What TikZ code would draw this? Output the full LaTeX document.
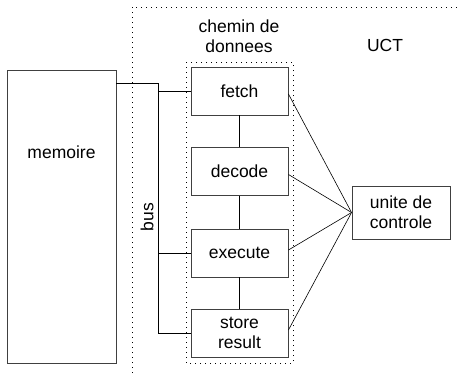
\documentclass[tikz,border=0pt]{standalone}
\usepackage{fontspec}
\setmainfont{Liberation Sans}
\usetikzlibrary{positioning}

\begin{document}
\begin{tikzpicture}[x=1pt, y=-1pt,
        % --- Styles for the nodes ---
        box/.style={
            draw=black!75, line width=0.9pt, rectangle, align=center,
            font=\fontsize{17.5}{20}\selectfont
        },
        stage/.style={box, minimum width=97pt, minimum height=48pt},
        zone/.style={line width=0.9pt, dash pattern=on 0.9pt off 4.1pt},
        link/.style={line width=0.6pt},
        label_style/.style={font=\fontsize{17.5}{20}\selectfont, align=center}
    ]
    \useasboundingbox (0,0) rectangle (457,373);

    % --- UCT and data path zones ---
    \draw[zone] (132,373) -- (132,7) -- (457,7);
    \draw[zone] (186,62) rectangle (293,363);
    \node[label_style] (uct) at (385,45) {UCT};
    \node[label_style] (path) at (239,36) {chemin de\\donnees};

    % --- Memory ---
    \node[box, minimum width=109pt, minimum height=293pt] (mem) at (61.5,216.5) {};
    \node[label_style] (memtext) at (61.5,152) {memoire};

    % --- The four stages ---
    \foreach \name/\txt/\y in {fetch/fetch/91, decode/decode/171.5, execute/execute/253, store/{store\\result}/333} {
        \node[stage] (\name) at (239.5,\y) {\txt};
    }
    \draw[link] (fetch) -- (decode) -- (execute) -- (store);

    % --- Control unit ---
    \node[box, minimum width=98pt, minimum height=53pt] (ctrl) at (401,212.5) {unite de\\controle};
    \foreach \name/\dy in {fetch/-3, decode/-3, execute/3, store/3} {
        \draw[link] ([yshift=\dy pt]\name.east) -- (ctrl.west);
    }

    % --- Bus ---
    \coordinate (bustop) at (158,83);
    \draw[link] (mem.east |- bustop) -- (bustop) -- (bustop |- store.west);
    \foreach \name in {fetch, execute, store} {
        \draw[link] (bustop |- \name.west) -- (\name.west);
    }
    \node[label_style, rotate=90] (buslabel) at (147,217) {bus};

\end{tikzpicture}
\end{document}
